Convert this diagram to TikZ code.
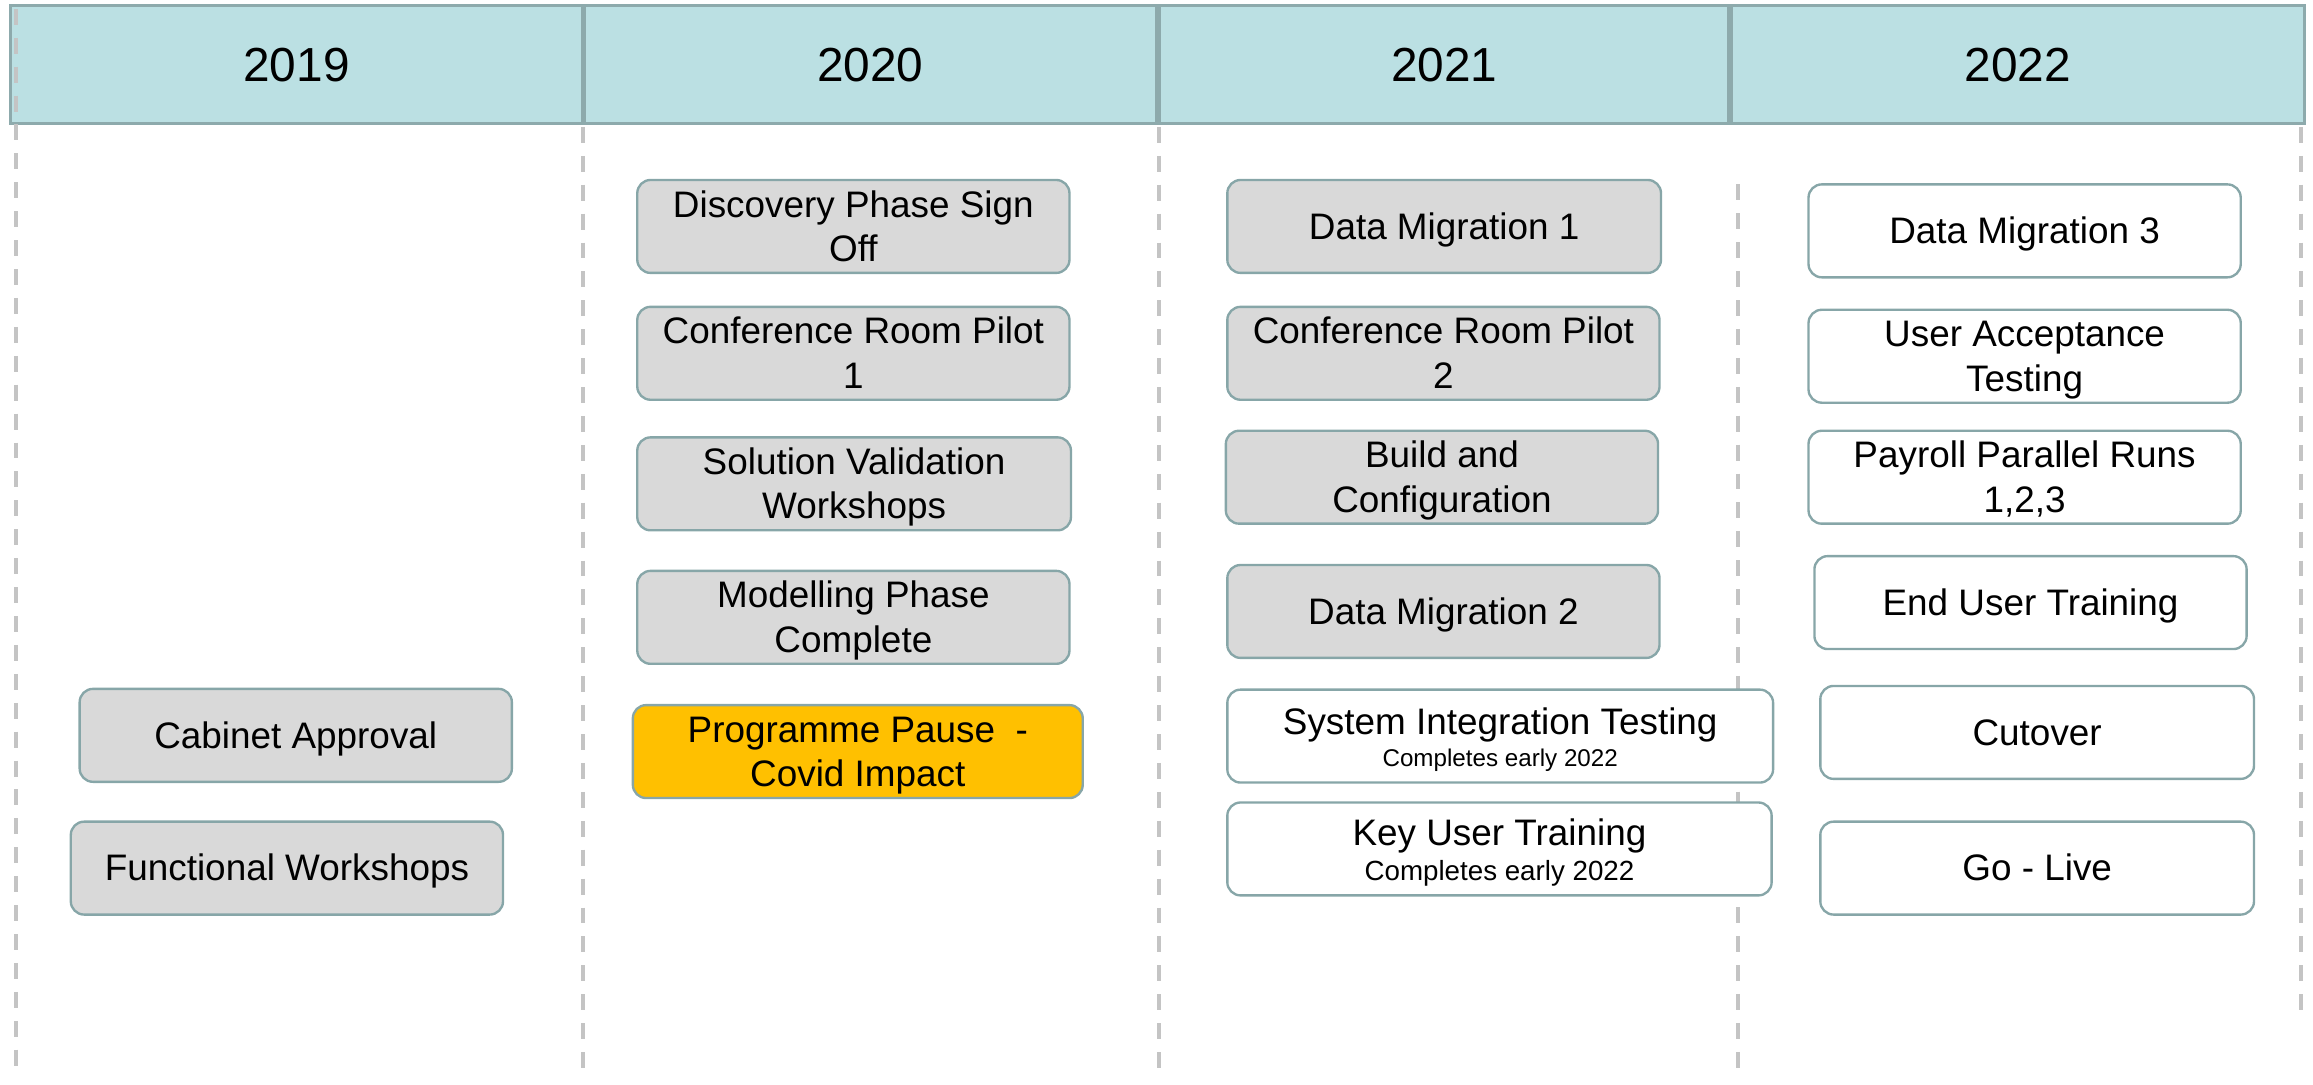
\documentclass[tikz,border=0pt]{standalone}
\usepackage{fontspec}
\setmainfont{Liberation Sans}
\definecolor{hdrfill}{HTML}{BBE0E3}
\definecolor{hdrline}{HTML}{8DAAAC}
\definecolor{boxline}{HTML}{87A6A8}
\definecolor{boxgray}{HTML}{D9D9D9}
\definecolor{pausefill}{HTML}{FFC000}
\definecolor{dashgray}{HTML}{C4C4C4}
\newcommand{\strutx}{\rule[-0.212em]{0pt}{1.117em}}
\newcommand{\subfnt}{\fontsize{16.4}{22}\selectfont}
\newcommand{\subfntb}{\fontsize{18.8}{23}\selectfont}
\tikzset{
  hdr/.style={draw=hdrline, line width=2pt, fill=hdrfill, font=\fontsize{32.4}{38}\selectfont, inner sep=0pt},
  tbox/.style={draw=boxline, line width=1.6pt, rounded corners=9pt, align=center, inner sep=0pt,
    minimum width=#1, minimum height=63pt, font=\fontsize{25}{30}\selectfont},
  tbox/.default=293pt,
  gbox/.style={tbox=#1, fill=boxgray},
  gbox/.default=293pt,
  wbox/.style={tbox=#1, fill=white},
  wbox/.default=293pt,
  pbox/.style={tbox=#1, fill=pausefill},
  twobox/.style={wbox=#1, font=\fontsize{25}{22}\selectfont},
  vline/.style={draw=dashgray, line width=2.7pt, dash pattern=on 10.8pt off 8.8pt}
}
\begin{document}
\begin{tikzpicture}[x=1pt, y=-1pt]
\useasboundingbox (0,0) rectangle (1568,735.5);
% header
\node[hdr, minimum width=388pt, minimum height=80pt] (h2019) at (201,44) {2019};
\node[hdr, minimum width=388pt, minimum height=80pt] (h2020) at (590,44) {2020};
\node[hdr, minimum width=386pt, minimum height=80pt] (h2021) at (979,44) {2021};
\node[hdr, minimum width=388pt, minimum height=80pt] (h2022) at (1368,44) {2022};
% dashed column lines
\coordinate (l0a) at (11,6);    \coordinate (l0b) at (11,728);
\coordinate (l1a) at (395,86);  \coordinate (l1b) at (395,728);
\coordinate (l2a) at (786,86);  \coordinate (l2b) at (786,728);
\coordinate (l3a) at (1178,125);\coordinate (l3b) at (1178,728);
\coordinate (l4a) at (1560,86); \coordinate (l4b) at (1560,688);
\draw[vline] (l0a) -- (l0b);
\draw[vline] (l1a) -- (l1b);
\draw[vline] (l2a) -- (l2b);
\draw[vline] (l3a) -- (l3b);
\draw[vline] (l4a) -- (l4b);
% 2019
\node[gbox] (cab) at (200.5,498.5) {\strutx Cabinet Approval};
\node[gbox] (fw) at (194.5,588.5) {\strutx Functional Workshops};
% 2020
\node[gbox] (disc) at (578.5,153.5) {\strutx Discovery Phase Sign\\\strutx Off};
\node[gbox] (crp1) at (578.5,239.5) {\strutx Conference Room Pilot\\\strutx 1};
\node[gbox=294pt] (svw) at (579,328) {\strutx Solution Validation\\\strutx Workshops};
\node[gbox] (mpc) at (578.5,418.5) {\strutx Modelling Phase\\\strutx Complete};
\node[pbox=305pt] (pause) at (581.5,509.5) {\strutx Programme Pause\ \ -\\\strutx Covid Impact};
% 2021
\node[gbox=294pt] (dm1) at (979,153.5) {\strutx Data Migration 1};
\node[gbox] (crp2) at (978.5,239.5) {\strutx Conference Room Pilot\\\strutx 2};
\node[gbox] (build) at (977.5,323.5) {\strutx Build and\\\strutx Configuration};
\node[gbox] (dm2) at (978.5,414.5) {\strutx Data Migration 2};
\node[twobox=370pt] (sit) at (1017,499) {\strutx System Integration Testing\\{\subfnt Completes early 2022}};
\node[twobox=369pt, font=\fontsize{25}{24}\selectfont] (kut) at (1016.5,575.5) {\strutx Key User Training\\{\subfntb Completes early 2022}};
% 2022
\node[wbox] (dm3) at (1372.5,156.5) {\strutx Data Migration 3};
\node[wbox] (uat) at (1372.5,241.5) {\strutx User Acceptance\\\strutx Testing};
\node[wbox] (ppr) at (1372.5,323.5) {\strutx Payroll Parallel Runs\\\strutx 1,2,3};
\node[wbox] (eut) at (1376.5,408.5) {\strutx End User Training};
\node[wbox=294pt] (cut) at (1381,496.5) {\strutx Cutover};
\node[wbox=294pt] (golive) at (1381,588.5) {\strutx Go - Live};
\end{tikzpicture}
\end{document}
